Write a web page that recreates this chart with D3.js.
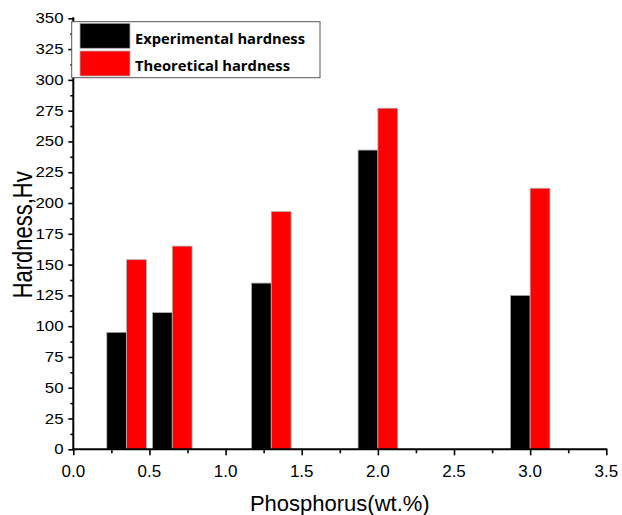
<!DOCTYPE html>
<html>
<head>
<meta charset="utf-8">
<script src="https://cdn.jsdelivr.net/npm/d3@7"></script>
<style>
  html, body { margin: 0; padding: 0; background: #fff; }
  text { font-family: "Liberation Sans", Arial, sans-serif; fill: #000; }
</style>
</head>
<body>
<svg id="chart" width="622" height="515"></svg>
<script>
// ---- data ----
const phosphorus = [0.35, 0.65, 1.3, 2.0, 3.0];
const experimental = [95, 111, 135, 243, 125];
const theoretical = [154, 165, 193, 277, 212];
const seriesNames = ["Experimental hardness", "Theoretical hardness"];
const seriesColors = ["#000000", "#ff0000"];
const xTicks = [0, 0.5, 1.0, 1.5, 2.0, 2.5, 3.0, 3.5];
const yTicks = [0, 25, 50, 75, 100, 125, 150, 175, 200, 225, 250, 275, 300, 325, 350];
const barWidthData = 0.13;

const svg = d3.select("#chart");
const x = d3.scaleLinear().domain([0, 3.5]).range([73.3, 606.3]);
const y = d3.scaleLinear().domain([0, 350]).range([449.3, 18.3]);

// bars
const series = [experimental, theoretical];
series.forEach((vals, si) => {
  svg.append("g").selectAll("rect")
    .data(vals.map((v, i) => ({ x: phosphorus[i], v })))
    .join("rect")
    .attr("x", d => si === 0 ? x(d.x - barWidthData) : x(d.x))
    .attr("width", d => x(d.x + barWidthData) - x(d.x))
    .attr("y", d => y(d.v))
    .attr("height", d => y(0) - y(d.v))
    .attr("fill", seriesColors[si])
    .attr("stroke", "#b0b0b0")
    .attr("stroke-width", 0.8);
});

// x axis
const xMinor = d3.range(0.25, 3.5, 0.5);
const gx = svg.append("g").attr("transform", `translate(0,${y(0)})`);
gx.append("g").call(d3.axisBottom(x).tickValues(xTicks).tickSize(6).tickFormat(""))
  .call(g => g.select(".domain").remove())
  .call(g => g.selectAll("line").attr("stroke-width", 1.6));
gx.append("g").call(d3.axisBottom(x).tickValues(xMinor).tickSize(4).tickFormat(""))
  .call(g => g.select(".domain").remove())
  .call(g => g.selectAll("line").attr("stroke-width", 1.6));
gx.append("line").attr("x1", x(0) - 1).attr("x2", x(3.5) + 1)
  .attr("stroke", "#000").attr("stroke-width", 2);
gx.selectAll("text.xl").data(xTicks).join("text").attr("class", "xl")
  .attr("x", d => x(d)).attr("y", 28)
  .attr("text-anchor", "middle").attr("font-size", 17)
  .text(d => d3.format(".1f")(d));

// y axis
const yMinor = d3.range(12.5, 350, 25);
const gy = svg.append("g").attr("transform", `translate(${x(0)},0)`);
gy.append("g").call(d3.axisLeft(y).tickValues(yTicks).tickSize(5).tickFormat(""))
  .call(g => g.select(".domain").remove())
  .call(g => g.selectAll("line").attr("stroke-width", 1.6));
gy.append("g").call(d3.axisLeft(y).tickValues(yMinor).tickSize(3).tickFormat(""))
  .call(g => g.select(".domain").remove())
  .call(g => g.selectAll("line").attr("stroke-width", 1.6));
gy.append("line").attr("y1", y(350) - 1).attr("y2", y(0) + 1)
  .attr("stroke", "#000").attr("stroke-width", 2);
svg.append("g").selectAll("text").data(yTicks).join("text")
  .attr("transform", d => `translate(63.5,${y(d)}) scale(1.2,1)`)
  .attr("text-anchor", "end").attr("dy", "0.36em").attr("font-size", 14)
  .text(d => d);

// axis titles
svg.append("text").attr("x", (x(0) + x(3.5)) / 2).attr("y", 511)
  .attr("text-anchor", "middle").attr("font-size", 22).text("Phosphorus(wt.%)");
svg.append("text").attr("transform", `translate(31.5,${(y(0) + y(350)) / 2 + 1}) scale(1.22,1) rotate(-90)`)
  .attr("text-anchor", "middle").attr("font-size", 22).text("Hardness,Hv");

// legend
const legendTextLen = [170, 155];
const lg = svg.append("g");
lg.append("rect").attr("x", 71.7).attr("y", 21.7).attr("width", 248.3).attr("height", 56)
  .attr("fill", "#fff").attr("stroke", "#555").attr("stroke-width", 1);
seriesNames.forEach((name, i) => {
  lg.append("rect").attr("x", 80).attr("y", 23.3 + i * 27.7).attr("width", 50).attr("height", 25)
    .attr("fill", seriesColors[i]).attr("stroke", "#b0b0b0").attr("stroke-width", 0.8);
  lg.append("text").attr("x", 135).attr("y", 43.5 + i * 27.2)
    .attr("font-size", 15).attr("font-weight", "bold")
    .style("font-family", "'Open Sans', 'Liberation Sans', sans-serif")
    .attr("textLength", legendTextLen[i]).attr("lengthAdjust", "spacingAndGlyphs")
    .text(name);
});
</script>
</body>
</html>
